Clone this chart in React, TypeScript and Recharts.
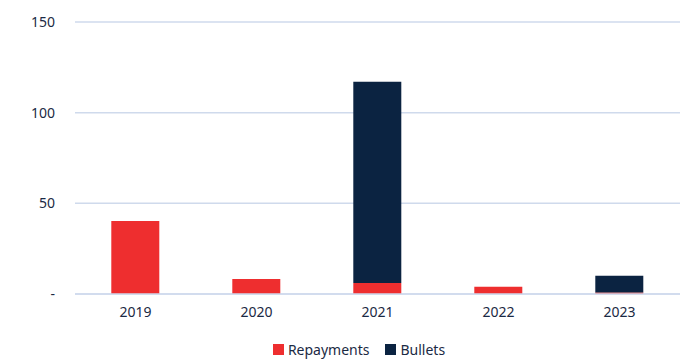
import React from 'react';
import { BarChart, Bar, XAxis, YAxis, CartesianGrid, Legend } from 'recharts';

const years = ['2019', '2020', '2021', '2022', '2023'];
const repayments = [40.3, 8.3, 6.1, 4.0, 0.8];
const bullets = [0, 0, 111, 0, 9.2];
const yTicks = [0, 50, 100, 150];
const seriesNames = ['Repayments', 'Bullets'];
const seriesColors = ['#ee2e2f', '#0b2341'];

const data = years.map((y, i) => ({ year: y, Repayments: repayments[i], Bullets: bullets[i] }));

const FONT = '"Noto Sans", sans-serif';
const TEXT = '#1b2a44';

const LegendContent = () => (
  <div style={{ display: 'flex', justifyContent: 'center', gap: 16, paddingLeft: 38, fontFamily: FONT, fontSize: 14, color: TEXT }}>
    {seriesNames.map((n, i) => (
      <div key={n} style={{ display: 'flex', alignItems: 'center', gap: 4 }}>
        <span style={{ display: 'inline-block', width: 11, height: 11, background: seriesColors[i] }} />
        <span>{n}</span>
      </div>
    ))}
  </div>
);

export default function App() {
  return (
    <div style={{ position: 'absolute', left: 0, top: 0, background: '#fff' }}>
      <BarChart
        width={686}
        height={360}
        data={data}
        margin={{ top: 22, right: 6, bottom: 1, left: 0 }}
        barCategoryGap="30%"
      >
        <CartesianGrid horizontal vertical={false} stroke="#cfdaec" strokeWidth={1.5} />
        <XAxis
          dataKey="year"
          axisLine={{ stroke: '#cfdaec', strokeWidth: 1.5 }}
          tickLine={false}
          tickSize={0}
          tickMargin={13}
          height={46}
          tick={{ fill: TEXT, fontSize: 14, fontFamily: FONT }}
        />
        <YAxis
          width={75}
          domain={[0, 150]}
          ticks={yTicks}
          axisLine={false}
          tickLine={false}
          tickSize={0}
          tickMargin={20}
          tickFormatter={(v: number) => (v === 0 ? '-' : String(v))}
          tick={{ fill: TEXT, fontSize: 14, fontFamily: FONT }}
        />
        <Legend verticalAlign="bottom" align="center" content={<LegendContent />} />
        <Bar dataKey="Repayments" stackId="a" fill={seriesColors[0]} isAnimationActive={false} />
        <Bar dataKey="Bullets" stackId="a" fill={seriesColors[1]} isAnimationActive={false} />
      </BarChart>
    </div>
  );
}
